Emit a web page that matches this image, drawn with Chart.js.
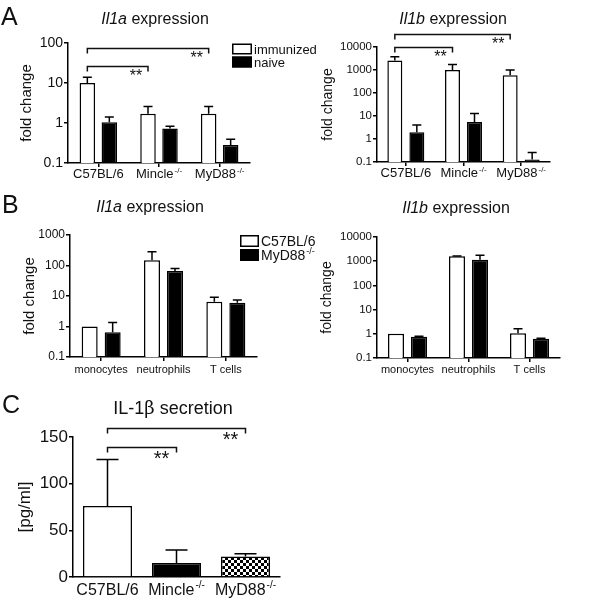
<!DOCTYPE html>
<html>
<head>
<meta charset="utf-8">
<script src="https://cdn.jsdelivr.net/npm/chart.js@4.4.0/dist/chart.umd.min.js"></script>
<style>
  body { margin: 0; background: #fff; width: 591px; height: 600px; position: relative; overflow: hidden;
         font-family: 'Liberation Sans', Arial, sans-serif; color: #111; }
  canvas { position: absolute; }
  .t { position: absolute; line-height: 1; white-space: nowrap; }
  .c { text-align: center; width: 200px; }
</style>
</head>
<body>
<canvas id="a1" width="320" height="190" style="left:0;top:0"></canvas>
<canvas id="a2" width="281" height="190" style="left:310px;top:0"></canvas>
<canvas id="b1" width="320" height="190" style="left:0;top:190px"></canvas>
<canvas id="b2" width="281" height="190" style="left:310px;top:190px"></canvas>
<canvas id="c1" width="300" height="220" style="left:0;top:380px"></canvas>

<div class="t" style="left:1px;top:4px;font-size:25px">A</div>
<div class="t c" style="left:55px;top:10.5px;font-size:16px"><i>Il1a</i> expression</div>
<div class="t c" style="left:353px;top:10.5px;font-size:16px"><i>Il1b</i> expression</div>
<div class="t" style="left:2px;top:192px;font-size:25px">B</div>
<div class="t c" style="left:50px;top:199px;font-size:16px"><i>Il1a</i> expression</div>
<div class="t c" style="left:356px;top:199.5px;font-size:16px"><i>Il1b</i> expression</div>
<div class="t" style="left:2px;top:392px;font-size:25px">C</div>
<div class="t c" style="left:73px;top:399px;font-size:18px">IL-1<span style="font-family:'DejaVu Serif'">β</span> secretion</div>

<script>
// panel A: expression in immunized vs naive mice
const groupsA = ['C57BL/6', 'Mincle', 'MyD88'];
const groupsSupA = ['', '-/-', '-/-'];
const seriesA = ['immunized', 'naive'];
const il1aImmunized = [10, 1.7, 1.7];
const il1aImmunizedErr = [14, 2.6, 2.6];
const il1aNaive = [1.05, 0.73, 0.28];
const il1aNaiveErr = [1.42, 0.83, 0.39];
const il1bImmunized = [2600, 1000, 590];
const il1bImmunizedErr = [3800, 1750, 1000];
const il1bNaive = [1.95, 5.5, 0.13];
const il1bNaiveErr = [4.1, 13, 0.26];
const ticksA1 = [0.1, 1, 10, 100];
const ticksA2 = [0.1, 1, 10, 100, 1000, 10000];
// brackets: [from group, to group, level]
const bracketsA1 = [[0, 2, 75], [0, 1, 26.6]];
const bracketsA2 = [[0, 2, 36700], [0, 1, 10000]];

// panel B: sorted cell types
const cellTypes = ['monocytes', 'neutrophils', 'T cells'];
const strainsB = ['C57BL/6', 'MyD88'];
const strainsSupB = ['', '-/-'];
const il1aWT = [1.0, 150, 6.5];
const il1aWTErr = [null, 280, 9.1];
const il1aKO = [0.65, 66, 6.0];
const il1aKOErr = [1.35, 80, 7.4];
const il1bWT = [1.0, 1600, 1.05];
const il1bWTErr = [null, 1650, 1.6];
const il1bKO = [0.75, 1150, 0.62];
const il1bKOErr = [0.8, 1750, 0.66];
const ticksB1 = [0.1, 1, 10, 100, 1000];
const ticksB2 = [0.1, 1, 10, 100, 1000, 10000];

// panel C: IL-1b secretion
const groupsC = ['C57BL/6', 'Mincle', 'MyD88'];
const groupsSupC = ['', '-/-', '-/-'];
const secretion = [76, 15, 22];
const secretionErr = [126, 29, 25];
const ticksC = [0, 50, 100, 150];
const bracketsC = [[0, 2, 160], [0, 1, 139]];

const FONT = "'Liberation Sans', Arial, sans-serif";
Chart.defaults.font.family = FONT;
Chart.defaults.color = '#111';

function drawSup(ctx, main, sup, x, y, size, align) {
    ctx.font = size + 'px ' + FONT;
    let w1 = ctx.measureText(main).width;
    let s2 = Math.round(size * 0.62);
    ctx.font = s2 + 'px ' + FONT;
    let w2 = sup ? ctx.measureText(sup).width + 1 : 0;
    let left = align === 'center' ? x - (w1 + w2) / 2 : x;
    ctx.textAlign = 'left';
    ctx.textBaseline = 'alphabetic';
    ctx.font = size + 'px ' + FONT;
    ctx.fillText(main, left, y);
    if (sup) {
        ctx.font = s2 + 'px ' + FONT;
        ctx.fillText(sup, left + w1 + 1, y - size * 0.42);
    }
}

function makeGp(s) {
    return {
        id: 'gp',
        afterDatasetsDraw(chart) {
            let ctx = chart.ctx, ys = chart.scales.y;
            ctx.save();
            ctx.strokeStyle = '#000';
            ctx.lineWidth = 1.5;
            s.errors.forEach(function(errs, di) {
                let meta = chart.getDatasetMeta(di);
                errs.forEach(function(e, i) {
                    if (e == null) return;
                    let bar = meta.data[i];
                    let top = ys.getPixelForValue(e);
                    ctx.beginPath();
                    ctx.moveTo(bar.x, bar.y);
                    ctx.lineTo(bar.x, top);
                    ctx.moveTo(bar.x - s.cap / 2, top);
                    ctx.lineTo(bar.x + s.cap / 2, top);
                    ctx.stroke();
                });
            });
            ctx.restore();
        },
        afterDraw(chart) {
            let ctx = chart.ctx, xs = chart.scales.x, ys = chart.scales.y, area = chart.chartArea;
            ctx.save();
            ctx.fillStyle = '#111';
            ctx.strokeStyle = '#111';
            ctx.lineWidth = 1.5;
            chart.data.labels.forEach(function(lab, i) {
                drawSup(ctx, lab, s.sups ? s.sups[i] : '', xs.getPixelForTick(i), area.bottom + s.labelDrop, s.labelSize, 'center');
            });
            let meta = chart.getDatasetMeta(0);
            (s.brackets || []).forEach(function(b) {
                let x1 = meta.data[b[0]].x, x2 = meta.data[b[1]].x;
                let yy = Math.round(ys.getPixelForValue(b[2])) + 0.5;
                ctx.beginPath();
                ctx.moveTo(x1, yy + 5);
                ctx.lineTo(x1, yy);
                ctx.lineTo(x2, yy);
                ctx.lineTo(x2, yy + 5);
                ctx.stroke();
                ctx.font = s.starSize + 'px ' + FONT;
                ctx.textAlign = 'center';
                ctx.textBaseline = 'alphabetic';
                ctx.fillText('**', x2 - s.starSize * 0.75, yy + s.starSize * 0.88);
            });
            if (s.legend) {
                let L = s.legend;
                chart.data.datasets.forEach(function(ds, k) {
                    let by = L.y + k * L.step;
                    ctx.fillStyle = ds.backgroundColor;
                    ctx.fillRect(L.x, by, L.w, L.h);
                    ctx.strokeStyle = '#000';
                    ctx.strokeRect(L.x + 0.75, by + 0.75, L.w - 1.5, L.h - 1.5);
                    ctx.fillStyle = '#111';
                    drawSup(ctx, ds.label, L.sups ? L.sups[k] : '', L.x + L.w + 2, by + L.h / 2 + L.size * 0.36, L.size, 'left');
                });
            }
            ctx.restore();
        }
    };
}

function buildChart(id, o) {
    return new Chart(document.getElementById(id), {
        type: 'bar',
        data: { labels: o.labels, datasets: o.datasets },
        options: {
            responsive: false,
            animation: false,
            events: [],
            layout: { padding: o.padding },
            plugins: { legend: { display: false }, tooltip: { enabled: false } },
            scales: {
                x: {
                    grid: { offset: false, drawOnChartArea: false, drawTicks: o.xTicks, tickLength: 4, color: '#000', lineWidth: 1.5 },
                    border: { color: '#000', width: 1.5 },
                    ticks: { display: false },
                    afterFit: function(scale) { scale.height = o.xHeight; }
                },
                y: {
                    type: o.log ? 'logarithmic' : 'linear',
                    min: o.ticks[0],
                    max: o.ticks[o.ticks.length - 1],
                    grid: { drawOnChartArea: false, tickLength: 4, color: '#000', lineWidth: 1.5 },
                    border: { color: '#000', width: 1.5 },
                    ticks: { color: '#111', font: { size: o.tickSize }, padding: 1, callback: function(v) { return String(v); } },
                    afterBuildTicks: function(scale) { scale.ticks = o.ticks.map(function(v) { return { value: v }; }); },
                    afterFit: function(scale) { scale.width = o.yWidth; },
                    title: { display: true, text: o.yTitle, color: '#111', font: { size: o.titleSize }, padding: 0 }
                }
            }
        },
        plugins: [makeGp(o.gp)]
    });
}

function pairSets(labels, a, b, cat, bar) {
    return [
        { label: labels[0], data: a, backgroundColor: '#fff', borderColor: '#000', borderWidth: 1.5, categoryPercentage: cat, barPercentage: bar },
        { label: labels[1], data: b, backgroundColor: '#000', borderColor: '#000', borderWidth: 1.5, categoryPercentage: cat, barPercentage: bar }
    ];
}

buildChart('a1', {
    labels: groupsA, datasets: pairSets(seriesA, il1aImmunized, il1aNaive, 0.725, 0.705),
    padding: { left: 18, top: 43, right: 70, bottom: 0 }, yWidth: 50, xHeight: 27, xTicks: true,
    log: true, ticks: ticksA1, tickSize: 14, yTitle: 'fold change', titleSize: 15,
    gp: { errors: [il1aImmunizedErr, il1aNaiveErr], cap: 9, sups: groupsSupA, labelDrop: 15, labelSize: 13,
          brackets: bracketsA1, starSize: 16,
          legend: { x: 232, y: 43.5, w: 20, h: 11, step: 13, size: 13 } }
});

buildChart('a2', {
    labels: groupsA, datasets: pairSets(seriesA, il1bImmunized, il1bNaive, 0.763, 0.68),
    padding: { left: 10, top: 47, right: 41, bottom: 0 }, yWidth: 57, xHeight: 28, xTicks: true,
    log: true, ticks: ticksA2, tickSize: 11.5, yTitle: 'fold change', titleSize: 14,
    gp: { errors: [il1bImmunizedErr, il1bNaiveErr], cap: 9, sups: groupsSupA, labelDrop: 15, labelSize: 13,
          brackets: bracketsA2, starSize: 16 }
});

buildChart('b1', {
    labels: cellTypes, datasets: pairSets(strainsB, il1aWT, il1aKO, 0.738, 0.696),
    padding: { left: 21, top: 45, right: 63, bottom: 0 }, yWidth: 49, xHeight: 23, xTicks: true,
    log: true, ticks: ticksB1, tickSize: 12, yTitle: 'fold change', titleSize: 15,
    gp: { errors: [il1aWTErr, il1aKOErr], cap: 9, labelDrop: 16, labelSize: 11,
          legend: { x: 240, y: 45, w: 19, h: 12, step: 14, size: 14, sups: strainsSupB } }
});

buildChart('b2', {
    labels: cellTypes, datasets: pairSets(strainsB, il1bWT, il1bKO, 0.754, 0.696),
    padding: { left: 9, top: 47, right: 31, bottom: 0 }, yWidth: 58, xHeight: 22, xTicks: true,
    log: true, ticks: ticksB2, tickSize: 11.5, yTitle: 'fold change', titleSize: 14,
    gp: { errors: [il1bWTErr, il1bKOErr], cap: 9, labelDrop: 15, labelSize: 11 }
});

// checkered fill for the MyD88 bar
let tile = document.createElement('canvas');
tile.width = 6; tile.height = 6;
let tctx = tile.getContext('2d');
tctx.fillStyle = '#fff'; tctx.fillRect(0, 0, 6, 6);
tctx.fillStyle = '#000'; tctx.fillRect(0, 0, 3, 3); tctx.fillRect(3, 3, 3, 3);
let checker = tctx.createPattern(tile, 'repeat');

buildChart('c1', {
    labels: groupsC,
    datasets: [{ label: 'IL-1b', data: secretion, backgroundColor: ['#fff', '#000', checker], borderColor: '#000', borderWidth: 1.5,
                 categoryPercentage: 1, barPercentage: 0.71 }],
    padding: { left: 15, top: 57, right: 20, bottom: 0 }, yWidth: 58, xHeight: 23, xTicks: false,
    log: false, ticks: ticksC, tickSize: 17, yTitle: '[pg/ml]', titleSize: 17,
    gp: { errors: [secretionErr], cap: 22, sups: groupsSupC, labelDrop: 18, labelSize: 16,
          brackets: bracketsC, starSize: 20 }
});
</script>
</body>
</html>
